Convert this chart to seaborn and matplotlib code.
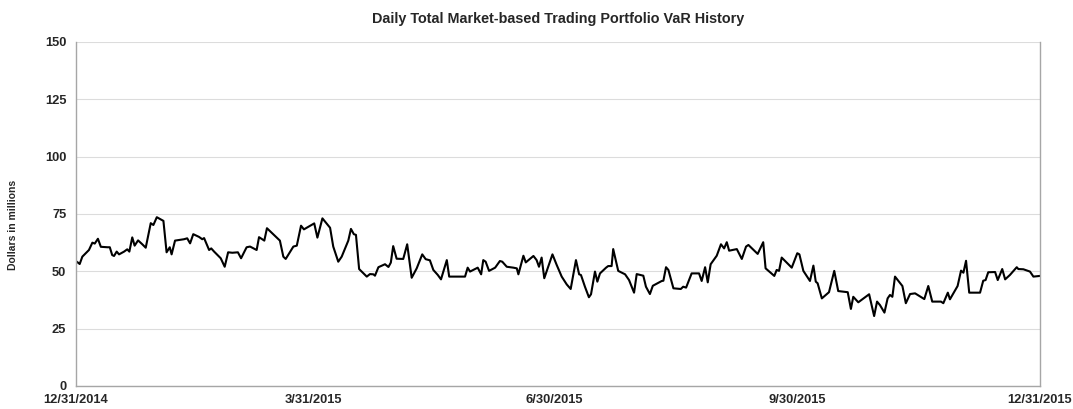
import numpy as np
import pandas as pd
import matplotlib
matplotlib.use("Agg")
import matplotlib.pyplot as plt
import seaborn as sns

# ---- data ----
day_offsets = [
    0.3, 1.4, 2.4, 4.9, 6.2, 7.1, 8.3, 9.4, 11.9, 12.8, 13.7, 14.4, 15.4, 16.3, 18.2, 19.4,
    20.2, 21.3, 22.2, 23.5, 25.1, 26.4, 28.3, 29.3, 30.6, 33.1, 34.3, 35.5, 36.2, 37.5,
    40.9, 42.1, 43.2, 44.4, 46.6, 47.8, 48.5, 50.4, 51.2, 52.3, 54.8, 56.3, 57.6, 59.2,
    61.3, 62.5, 64.6, 65.9, 68.4, 69.3, 71.3, 72.3, 77.2, 78.5, 79.4, 82.3, 83.6, 85.2,
    86.3, 90.2, 91.4, 93.3, 96.2, 97.4, 99.3, 100.6, 103.1, 104.1, 105.2, 106.0, 107.2,
    110.1, 111.3, 112.6, 113.2, 114.5, 117.0, 118.3, 119.2, 120.1, 121.4, 123.9, 125.4,
    127.1, 129.0, 131.1, 132.4, 134.0, 135.3, 137.0, 138.2, 140.4, 141.3, 147.3, 148.3,
    149.2, 152.1, 153.4, 154.2, 155.1, 156.4, 158.7, 160.5, 161.4, 163.1, 165.6, 166.9,
    167.5, 169.4, 170.3, 173.2, 174.4, 175.3, 176.3, 177.3, 180.4, 182.0, 183.9, 185.8,
    187.3, 189.3, 190.5, 191.2, 192.7, 194.2, 195.0, 196.5, 197.4, 198.4, 200.7, 201.5,
    202.8, 203.4, 205.3, 207.9, 209.4, 211.3, 212.3, 214.8, 215.8, 217.3, 218.4, 221.8,
    222.4, 223.4, 224.3, 226.2, 229.0, 229.9, 231.0, 233.1, 235.9, 236.9, 238.2, 239.2,
    240.3, 242.6, 244.2, 245.4, 246.4, 247.3, 250.2, 252.1, 253.7, 254.6, 258.1, 260.2,
    261.1, 264.4, 265.3, 266.2, 267.2, 271.0, 273.1, 273.9, 275.4, 277.9, 279.2, 280.1,
    280.8, 282.4, 285.1, 287.1, 288.6, 292.2, 293.4, 294.3, 296.2, 300.3, 302.2, 303.3,
    304.4, 306.1, 307.3, 308.2, 309.1, 310.1, 312.9, 314.2, 315.8, 317.7, 321.2, 322.7,
    324.2, 327.5, 328.4, 330.1, 330.9, 333.8, 335.1, 336.0, 337.0, 338.2, 342.3, 343.5,
    344.4, 345.4, 348.0, 349.0, 350.7, 351.8, 353.6, 356.2, 356.8, 358.7, 361.2, 362.5,
    365.0,
]
var_values = [
    54.2, 53.2, 56.4, 59.3, 62.5, 62.1, 64.2, 60.7, 60.5, 60.5, 57.1, 56.7, 58.6, 57.4, 58.6, 59.6,
    58.6, 64.8, 61.2, 63.5, 61.8, 60.3, 71.0, 70.2, 73.6, 72.0, 58.3, 60.5, 57.4, 63.4,
    64.0, 64.4, 62.2, 66.2, 65.0, 64.0, 64.5, 59.3, 60.0, 58.6, 55.7, 52.0, 58.3, 58.1,
    58.3, 55.7, 60.5, 60.8, 59.3, 64.9, 63.4, 68.8, 63.4, 56.4, 55.4, 60.8, 61.2, 69.9,
    68.3, 70.9, 64.7, 73.1, 69.0, 60.8, 54.2, 56.4, 63.4, 68.5, 66.2, 65.9, 51.0,
    47.7, 48.8, 48.7, 48.1, 51.8, 53.1, 51.9, 53.8, 61.0, 55.5, 55.4, 61.8,
    47.2, 51.3, 57.4, 55.3, 54.8, 50.6, 48.4, 46.5, 54.9, 47.7, 47.7, 51.6,
    49.9, 51.6, 48.7, 54.9, 54.2, 50.2, 51.6, 54.5, 54.2, 52.0, 51.6, 51.3,
    48.7, 56.8, 53.9, 56.7, 54.9, 52.0, 56.0, 47.0, 57.4, 52.8, 47.7, 44.3,
    42.3, 54.9, 48.7, 48.4, 43.3, 38.7, 40.0, 49.9, 45.5, 49.1, 51.6, 52.3,
    52.3, 59.7, 50.2, 48.7, 46.2, 40.7, 48.8, 48.1, 43.3, 40.1, 43.7, 45.8,
    45.9, 51.8, 50.6, 42.6, 42.3, 43.3, 42.9, 49.1, 49.1, 45.8, 51.8, 45.2,
    53.1, 56.8, 61.8, 60.0, 62.7, 59.0, 59.7, 55.4, 60.8, 61.5, 57.6, 62.7,
    51.3, 48.0, 50.6, 50.2, 56.0, 51.6, 57.9, 57.4, 50.2, 45.8, 52.5, 45.5,
    44.8, 38.2, 40.9, 50.2, 41.4, 40.9, 33.6, 38.9, 36.5, 40.0, 30.5, 36.8,
    35.3, 32.0, 38.2, 39.7, 38.9, 47.7, 43.6, 36.1, 40.1, 40.4, 37.9, 43.6,
    36.8, 36.8, 36.1, 40.7, 37.8, 43.6, 50.3, 49.4, 54.6, 40.7, 40.7, 45.9,
    46.2, 49.6, 49.7, 46.2, 51.0, 46.5, 48.4, 51.8, 51.0, 50.9, 49.9, 47.7,
    48.0,
]
tick_dates = ["2014-12-31", "2015-03-31", "2015-06-30", "2015-09-30", "2015-12-31"]
tick_labels = ["12/31/2014", "3/31/2015", "6/30/2015", "9/30/2015", "12/31/2015"]
y_ticks = [0, 25, 50, 75, 100, 125, 150]
title = "Daily Total Market-based Trading Portfolio VaR History"
y_label = "Dollars in millions"

sns.set_style("white")
plt.rcParams["font.family"] = ["Liberation Sans", "DejaVu Sans"]

start = pd.Timestamp("2014-12-31")
df = pd.DataFrame({
    "date": start + pd.to_timedelta(day_offsets, unit="D"),
    "var": var_values,
})

fig = plt.figure(figsize=(10.73, 4.09), dpi=100)
ax = fig.add_axes([76 / 1073, 1 - 386 / 409, 964 / 1073, 344 / 409])

sns.lineplot(data=df, x="date", y="var", ax=ax, color="black", linewidth=1.5)

ax.set_xlim(start, pd.Timestamp("2015-12-31"))
ax.set_ylim(0, 150)
ax.set_yticks(y_ticks)
ax.set_xticks(pd.to_datetime(tick_dates))
ax.set_xticklabels(tick_labels)

ax.grid(axis="y", color="#dcdcdc", linewidth=0.8)
ax.grid(axis="x", visible=False)
ax.set_axisbelow(True)

ax.spines["top"].set_visible(False)
for side in ["left", "bottom", "right"]:
    ax.spines[side].set_color("#a6a6a6")
    ax.spines[side].set_linewidth(1.0)

ax.tick_params(axis="both", which="major", direction="out", length=4, width=1,
               color="#a6a6a6", labelsize=9.3)
ax.tick_params(axis="y", pad=3)
ax.tick_params(axis="x", pad=2)
for lab in ax.get_xticklabels() + ax.get_yticklabels():
    lab.set_fontweight("bold")

ax.set_xlabel("")
ax.set_ylabel(y_label, fontsize=7.5, fontweight="bold")
ax.yaxis.set_label_coords(-0.060, 0.468)

fig.text(558 / 1073, 1 - 19 / 409, title, ha="center", va="center",
         fontsize=10.4, fontweight="bold")

fig.savefig("out.png", dpi=100)
